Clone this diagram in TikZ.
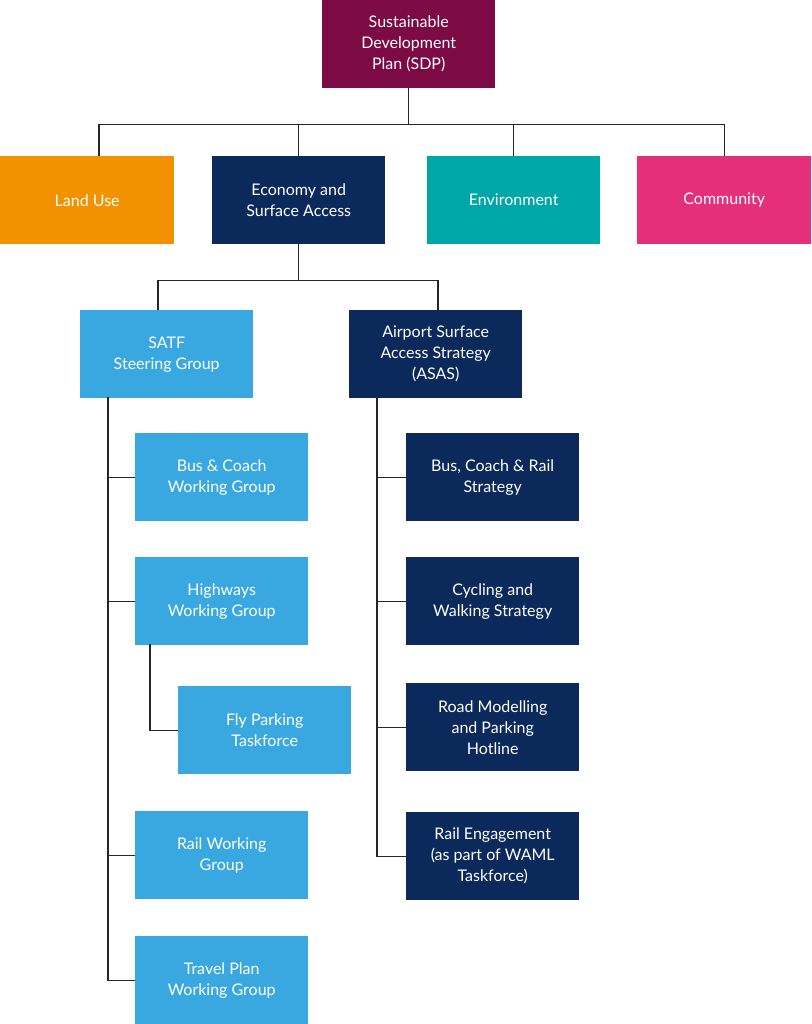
\documentclass[tikz,border=0pt]{standalone}
\usepackage{fontspec}
\setmainfont{Lato}
\definecolor{maroon}{HTML}{7B0A45}
\definecolor{orng}{HTML}{F39200}
\definecolor{navy}{HTML}{0B2A5B}
\definecolor{teal}{HTML}{00A7A9}
\definecolor{pink}{HTML}{E4307A}
\definecolor{lblue}{HTML}{3AA8E0}
\begin{document}
\begin{tikzpicture}[x=1pt,y=-1pt,
 box/.style={draw=none,minimum width=173pt,minimum height=88pt,anchor=north west,text=white,align=center,font=\fontsize{16}{21}\selectfont,inner sep=0pt},
 ln/.style={draw=black!85,line width=1.2pt}]
\useasboundingbox (0,0) rectangle (811,1024);
\fill[white] (0,0) rectangle (811,1024);
\node[box,fill=maroon] (sdp) at (322,0) {Sustainable\\Development\\Plan (SDP)};
\node[box,fill=orng,minimum width=174pt] (lu) at (0,156) {Land Use};
\node[box,fill=navy] (eco) at (212,156) {Economy and\\Surface Access};
\node[box,fill=teal] (env) at (427,156) {Environment};
\node[box,fill=pink,minimum width=174pt] (com) at (637,156) {Community};
\node[box,fill=lblue] (satf) at (80,310) {SATF\\Steering Group};
\node[box,fill=navy] (asas) at (349,310) {Airport Surface\\Access Strategy\\(ASAS)};
\node[box,fill=lblue] (bc) at (135,433) {Bus \& Coach\\Working Group};
\node[box,fill=lblue] (hw) at (135,557) {Highways\\Working Group};
\node[box,fill=lblue] (fp) at (178,686) {Fly Parking\\Taskforce};
\node[box,fill=lblue] (rw) at (135,811) {Rail Working\\Group};
\node[box,fill=lblue] (tp) at (135,936) {Travel Plan\\Working Group};
\node[box,fill=navy] (a1) at (406,433) {Bus, Coach \& Rail\\Strategy};
\node[box,fill=navy] (a2) at (406,557) {Cycling and\\Walking Strategy};
\node[box,fill=navy] (a3) at (406,683) {Road Modelling\\and Parking\\Hotline};
\node[box,fill=navy] (a4) at (406,812) {Rail Engagement\\(as part of WAML\\Taskforce)};
% connectors
\draw[ln] (sdp.south) -- ++(0,36) coordinate (j1);
\draw[ln] (lu.north -| 99,0) |- (j1) -| (com.north);
\draw[ln] (eco.north) -- (eco.north |- j1);
\draw[ln] (env.north) -- (env.north |- j1);
\draw[ln] (eco.south) -- ++(0,36) coordinate (j2);
\draw[ln] (satf.north -| 158,0) |- (j2) -| (asas.north -| 438,0);
\coordinate (s0) at (108,397);
\draw[ln] (s0) |- (tp.west);
\draw[ln] (s0 |- bc.west) -- (bc.west);
\draw[ln] (s0 |- hw.west) -- (hw.west);
\draw[ln] (s0 |- rw.west) -- (rw.west);
\draw[ln] (150,644) |- (fp.west);
\coordinate (r0) at (377,397);
\draw[ln] (r0) |- (a4.west);
\draw[ln] (r0 |- a1.west) -- (a1.west);
\draw[ln] (r0 |- a2.west) -- (a2.west);
\draw[ln] (r0 |- a3.west) -- (a3.west);
\end{tikzpicture}
\end{document}
